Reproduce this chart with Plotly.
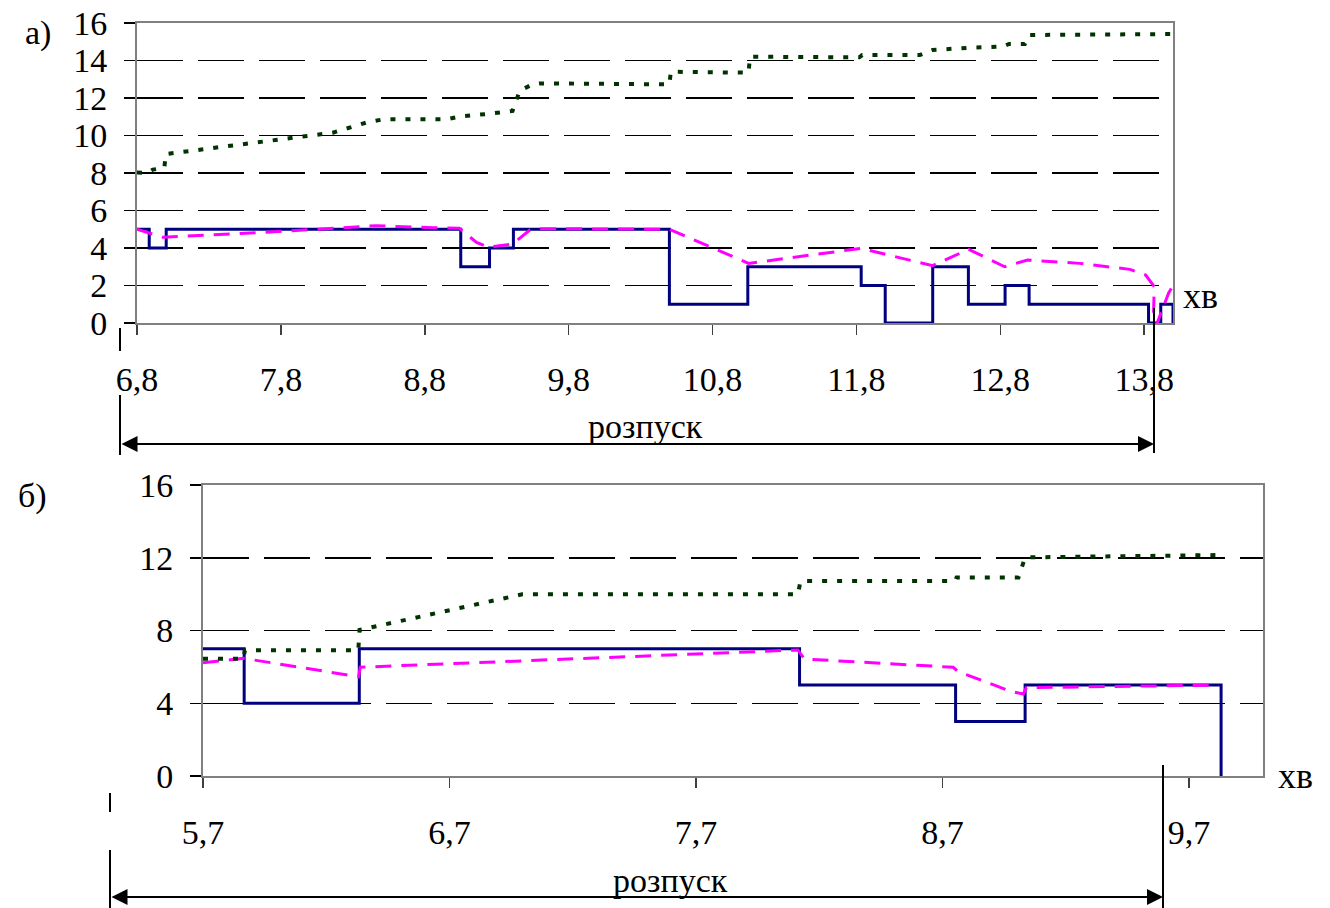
import plotly.graph_objects as go

# ---------------- data: chart a) ----------------
a_step_x = [6.8, 6.885, 7.003, 9.05, 9.25, 9.416, 10.5, 11.045, 11.833, 12.0, 12.33, 12.578, 12.833, 13.0, 13.83, 13.915, 14.0]
a_step_y = [5, 4, 5, 3, 4, 5, 1, 3, 2, 0, 3, 1, 2, 1, 0, 1, 0]

a_dash_x = [6.8, 6.98, 7.84, 8.46, 8.86, 9.04, 9.16, 9.24, 9.41, 9.53, 9.60, 10.50, 11.05, 11.83, 12.33, 12.58,
            12.83, 12.99, 13.35, 13.70, 13.81, 13.87, 13.865, 13.885, 13.93, 13.97, 14.0]
a_dash_y = [5.0, 4.57, 4.9, 5.19, 5.08, 5.05, 4.30, 4.04, 4.21, 4.96, 5.03, 5.0, 3.18, 3.98, 3.06, 3.93,
            3.0, 3.36, 3.18, 2.86, 2.56, 1.94, 0.6, -0.1, 0.8, 1.6, 2.0]

a_dot_x = [6.8, 6.87, 6.91, 6.99, 7.0, 7.98, 8.16, 8.39, 8.51, 8.95, 9.05, 9.25, 9.41, 9.46, 9.55, 9.60, 10.50,
           10.51, 11.05, 11.06, 11.82, 11.84, 12.24, 12.33, 12.58, 12.82, 12.86, 12.97, 13.0, 14.0]
a_dot_y = [8.02, 8.0, 8.18, 8.28, 9.01, 9.97, 10.15, 10.68, 10.86, 10.86, 11.02, 11.16, 11.31, 12.39, 12.73, 12.78, 12.73,
           13.40, 13.35, 14.2, 14.17, 14.29, 14.29, 14.56, 14.68, 14.74, 14.88, 14.88, 15.36, 15.41]

a_tickvals = [6.8, 7.8, 8.8, 9.8, 10.8, 11.8, 12.8, 13.8]
a_ticktext = ["6,8", "7,8", "8,8", "9,8", "10,8", "11,8", "12,8", "13,8"]
a_yticks = [0, 2, 4, 6, 8, 10, 12, 14, 16]

# ---------------- data: chart б) ----------------
b_step_x = [5.7, 5.867, 6.334, 8.12, 8.753, 9.035, 9.83]
b_step_y = [7, 4, 7, 5, 3, 5, 0]

b_dash_x = [5.7, 5.864, 6.331, 6.338, 8.113, 8.14, 8.743, 8.764, 8.98, 9.028, 9.04, 9.821]
b_dash_y = [6.23, 6.47, 5.46, 5.98, 6.93, 6.43, 5.98, 5.74, 4.64, 4.51, 4.86, 5.0]

b_dot_x = [5.7, 5.864, 5.87, 6.33, 6.335, 6.995, 8.113, 8.124, 8.75, 8.757, 9.008, 9.035, 9.834]
b_dot_y = [6.45, 6.45, 6.91, 6.91, 8.03, 9.99, 9.99, 10.72, 10.72, 10.92, 10.92, 12.02, 12.15]

b_tickvals = [5.7, 6.7, 7.7, 8.7, 9.7]
b_ticktext = ["5,7", "6,7", "7,7", "8,7", "9,7"]
b_yticks = [0, 4, 8, 12, 16]

NAVY = "#000080"
MAGENTA = "#FF00FF"
GREEN = "#003300"
FONT = "Liberation Serif"
W, H = 1330, 908

fig = go.Figure()

for xs, ys, ax in [(a_step_x, a_step_y, ("x", "y")), (b_step_x, b_step_y, ("x2", "y2"))]:
    fig.add_trace(go.Scatter(x=xs, y=ys, mode="lines", line=dict(color=NAVY, width=3, shape="hv"),
                             xaxis=ax[0], yaxis=ax[1], showlegend=False, hoverinfo="skip"))
for xs, ys, ax in [(a_dash_x, a_dash_y, ("x", "y")), (b_dash_x, b_dash_y, ("x2", "y2"))]:
    fig.add_trace(go.Scatter(x=xs, y=ys, mode="lines", line=dict(color=MAGENTA, width=3, dash="16px,10px"),
                             xaxis=ax[0], yaxis=ax[1], showlegend=False, hoverinfo="skip"))
for xs, ys, ax in [(a_dot_x, a_dot_y, ("x", "y")), (b_dot_x, b_dot_y, ("x2", "y2"))]:
    fig.add_trace(go.Scatter(x=xs, y=ys, mode="lines", line=dict(color=GREEN, width=4, dash="5px,10px"),
                             xaxis=ax[0], yaxis=ax[1], showlegend=False, hoverinfo="skip"))


def px(x):
    return x / W


def py(y):
    return 1 - y / H


xcommon = dict(showgrid=False, zeroline=False, showline=True, linecolor="#808080", linewidth=2, mirror=True,
               ticks="outside", ticklen=10, tickwidth=1.5, tickcolor="#404040", automargin=False,
               ticklabeloverflow="allow",
               tickfont=dict(family=FONT, size=34, color="black"), ticklabelstandoff=15)
ycommon = dict(showgrid=True, gridcolor="black", gridwidth=1.5, griddash="46px,15px", zeroline=False,
               showline=True, linecolor="#808080", linewidth=2, mirror=True, automargin=False,
               ticklabeloverflow="allow",
               ticks="outside", ticklen=11, tickwidth=1.5, tickcolor="black",
               tickfont=dict(family=FONT, size=34, color="black"), ticklabelstandoff=10)

fig.update_layout(
    width=W, height=H, autosize=False,
    margin=dict(l=0, r=0, t=0, b=0, pad=0, autoexpand=False),
    paper_bgcolor="white", plot_bgcolor="white", showlegend=False,
    xaxis=dict(domain=[px(137), px(1173)], range=[6.8, 14.0], tickvals=a_tickvals, ticktext=a_ticktext,
               anchor="y", **xcommon),
    yaxis=dict(domain=[py(323), py(23)], range=[0, 16], tickvals=a_yticks, anchor="x", **ycommon),
    xaxis2=dict(domain=[px(203), px(1263)], range=[5.7, 10.0], tickvals=b_tickvals, ticktext=b_ticktext,
                anchor="y2", **xcommon),
    yaxis2=dict(domain=[py(776), py(485)], range=[0, 16], tickvals=b_yticks, anchor="x2", **ycommon),
)

shapes = []


def vline(x, y0, y1):
    shapes.append(dict(type="line", xref="paper", yref="paper", x0=px(x), x1=px(x), y0=py(y0), y1=py(y1),
                       line=dict(color="black", width=2)))


vline(120, 328, 351)
vline(120, 395, 455)
vline(1154, 308, 453)
vline(110, 793, 812)
vline(110, 850, 908)
vline(1163, 765, 908)
fig.update_layout(shapes=shapes)

annotations = []


def text(t, x, y, size=34):
    annotations.append(dict(text=t, x=px(x), y=py(y), xref="paper", yref="paper", showarrow=False,
                            xanchor="center", yanchor="middle", font=dict(family=FONT, size=size, color="black")))


def arrow(x0, x1, y):
    annotations.append(dict(text="", x=px(x1), y=py(y), xref="paper", yref="paper", showarrow=True,
                            ax=x0 - x1, ay=0, axref="pixel", ayref="pixel", arrowside="end+start",
                            arrowhead=2, arrowsize=1.6, arrowwidth=2, arrowcolor="black", standoff=0,
                            startstandoff=0, startarrowhead=2, startarrowsize=1.6))


text("а)", 38, 33)
text("б)", 32, 496)
text("хв", 1200, 296, 36)
text("хв", 1295, 776, 36)
text("розпуск", 645, 427)
text("розпуск", 670, 880)
arrow(120, 1154, 444)
arrow(110, 1163, 897)
fig.update_layout(annotations=annotations)

fig.write_html("out.html",
               config={"displayModeBar": False, "staticPlot": True},
               post_script="document.body.style.margin='0px';document.body.style.padding='0px';"
                           "document.body.style.overflow='hidden';")
